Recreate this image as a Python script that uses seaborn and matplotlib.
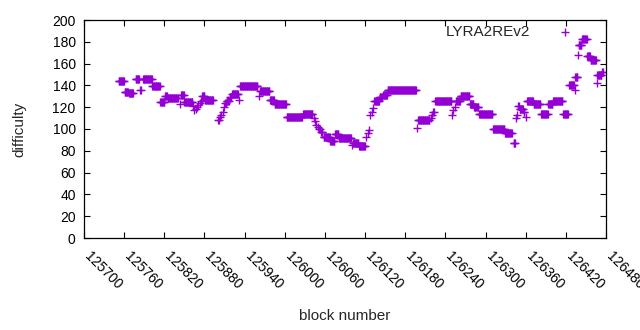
import numpy as np
import pandas as pd
import seaborn as sns
import matplotlib.pyplot as plt

# Runs of constant difficulty: first block, last block, difficulty
run_start = [125752, 125761, 125767, 125777, 125784, 125788, 125802, 125814, 125821, 125825,
             125843, 125845, 125850, 125863, 125865, 125867, 125869, 125871, 125873, 125875,
             125877, 125881, 125900, 125903, 125905, 125907, 125909, 125911, 125913, 125918,
             125921, 125932, 125933, 125961, 125963, 125978, 125985, 126003, 126027, 126043,
             126045, 126047, 126049, 126051, 126054, 126058, 126068, 126075, 126081, 126100,
             126102, 126111, 126122, 126124, 126126, 126128, 126130, 126132, 126134, 126142,
             126147, 126154, 126198, 126199, 126218, 126220, 126222, 126225, 126250, 126252,
             126255, 126256, 126263, 126277, 126283, 126290, 126311, 126329, 126342, 126345,
             126347, 126349, 126351, 126357, 126360, 126362, 126372, 126383, 126394, 126401,
             126416, 126425, 126433, 126434, 126438, 126439, 126444, 126452, 126457, 126466,
             126467, 126474]
run_end = [125760, 125766, 125773, 125782, 125785, 125801, 125813, 125820, 125824, 125840,
           125843, 125849, 125862, 125863, 125865, 125867, 125869, 125871, 125873, 125876,
           125880, 125893, 125901, 125903, 125905, 125907, 125909, 125912, 125916, 125920,
           125930, 125932, 125959, 125961, 125977, 125984, 126002, 126026, 126041, 126043,
           126045, 126047, 126049, 126052, 126056, 126067, 126074, 126080, 126099, 126100,
           126110, 126120, 126122, 126124, 126126, 126128, 126130, 126132, 126141, 126146,
           126153, 126196, 126198, 126216, 126218, 126220, 126223, 126249, 126250, 126252,
           126255, 126262, 126276, 126282, 126289, 126310, 126328, 126339, 126344, 126345,
           126347, 126350, 126356, 126358, 126360, 126371, 126382, 126393, 126400, 126415,
           126423, 126432, 126433, 126437, 126438, 126443, 126451, 126456, 126465, 126466,
           126473, 126475]
run_diff = [144, 134, 133, 146, 136, 146, 139, 125, 130, 128,
            123, 131, 125, 121, 117, 118, 120, 122, 124, 126,
            130, 127, 108, 111, 113, 116, 120, 124, 126, 129,
            132, 127, 139, 130, 135, 127, 123, 111, 114, 110,
            107, 104, 102, 100, 97, 93, 89, 95, 92, 85,
            87, 84, 93, 96, 99, 113, 116, 119, 126, 129,
            131, 136, 101, 108, 110, 113, 116, 126, 113, 117,
            120, 126, 130, 123, 120, 114, 100, 96, 87, 110,
            113, 121, 118, 116, 111, 126, 123, 114, 123, 126,
            114, 140, 136, 148, 168, 177, 183, 167, 163, 142,
            150, 152]

x_ticks = list(range(125700, 126481, 60))
y_ticks = list(range(0, 201, 20))

blocks = np.concatenate([np.arange(s, e + 1) for s, e in zip(run_start, run_end)])
diffs = np.concatenate([[d] * (e - s + 1) for s, e, d in zip(run_start, run_end, run_diff)])
df = pd.DataFrame({"block": blocks, "difficulty": diffs})

sns.set_style("ticks")
plt.rcParams["font.family"] = ["Liberation Sans", "DejaVu Sans"]
plt.rcParams["font.size"] = 10

fig = plt.figure(figsize=(6.4, 3.3), dpi=100)
ax = fig.add_axes([84 / 640, 1 - 238 / 330, 522 / 640, 218 / 330])

sns.scatterplot(data=df, x="block", y="difficulty", marker="+", color="#9400d3",
                s=28, linewidth=1.0, label="LYRA2REv2", ax=ax)

ax.set_xlim(125700, 126480)
ax.set_ylim(0, 200)
ax.set_xticks(x_ticks)
ax.set_yticks(y_ticks)
ax.set_xticklabels([str(t) for t in x_ticks], rotation=-45, ha="left", va="baseline",
                   rotation_mode="anchor")
ax.tick_params(direction="in", length=4, width=0.8, top=True, right=True,
               colors="black", labelsize=10)
ax.tick_params(axis="x", pad=14)
ax.tick_params(axis="y", pad=6)
for sp in ax.spines.values():
    sp.set_linewidth(0.9)
    sp.set_color("black")

ax.set_xlabel("block number", fontsize=11, labelpad=12)
ax.set_ylabel("difficulty", fontsize=11, labelpad=19)

ax.legend(loc="upper right", bbox_to_anchor=(0.966, 0.975), frameon=False,
          markerfirst=False, handlelength=3.0, handletextpad=0.8,
          borderaxespad=0, borderpad=0, fontsize=11)

fig.savefig("out.png", dpi=100)
